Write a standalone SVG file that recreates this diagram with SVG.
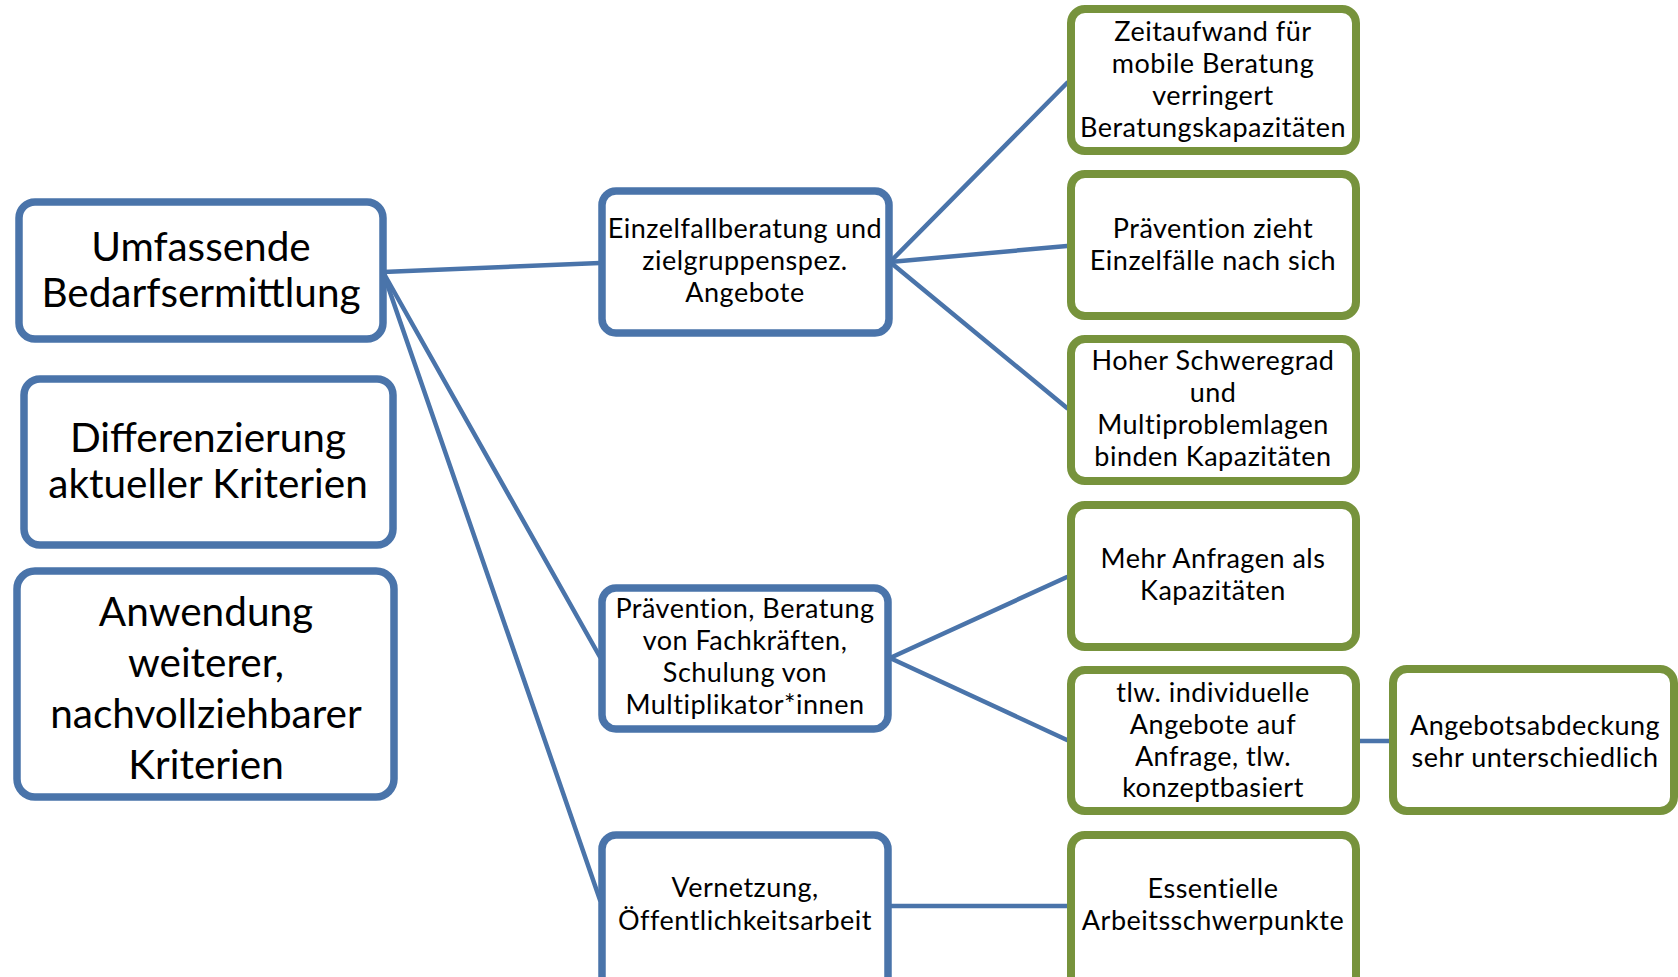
<svg xmlns="http://www.w3.org/2000/svg" width="1678" height="977" viewBox="0 0 1678 977">
<style>
.bb{fill:#fff;stroke:#4A74AA;stroke-width:7.5}
.gb{fill:#fff;stroke:#77933C;stroke-width:8}
.cn{stroke:#4A74AA;stroke-width:4.5;fill:none;stroke-linecap:round}
text{font-family:Lato,"Open Sans",sans-serif;fill:#000;text-anchor:middle}
.t1{font-size:40.5px}
.t2{font-size:40.5px}
.t3{font-size:27px;letter-spacing:0.5px}
</style>
<rect width="1678" height="977" fill="#fff"/>
<g id="connectors">
<line class="cn" x1="383" y1="272" x2="600" y2="263"/>
<line class="cn" x1="383" y1="272" x2="600" y2="657"/>
<line class="cn" x1="383" y1="272" x2="600" y2="900"/>
<line class="cn" x1="890" y1="262" x2="1067" y2="83"/>
<line class="cn" x1="890" y1="262" x2="1067" y2="246"/>
<line class="cn" x1="890" y1="262" x2="1067" y2="408"/>
<line class="cn" x1="890" y1="658" x2="1067" y2="577"/>
<line class="cn" x1="890" y1="658" x2="1067" y2="740"/>
<line class="cn" x1="890" y1="906" x2="1067" y2="906"/>
<line class="cn" x1="1360" y1="741" x2="1390" y2="741"/>
</g>
<g id="n-umfassende">
<rect class="bb" x="19" y="202" width="364" height="137" rx="16"/>
<text class="t1" x="201" y="261">Umfassende</text>
<text class="t1" x="201" y="307">Bedarfsermittlung</text>
</g>
<g id="n-differenzierung">
<rect class="bb" x="24" y="379" width="369" height="166" rx="16"/>
<text class="t1" x="208" y="452">Differenzierung</text>
<text class="t1" x="208" y="498">aktueller Kriterien</text>
</g>
<g id="n-anwendung">
<rect class="bb" x="17" y="571" width="377" height="226" rx="18"/>
<text class="t2" x="206" y="626">Anwendung</text>
<text class="t2" x="206" y="677">weiterer,</text>
<text class="t2" x="206" y="728">nachvollziehbarer</text>
<text class="t2" x="206" y="779">Kriterien</text>
</g>
<g id="n-einzelfall">
<rect class="bb" x="602" y="191" width="287" height="142" rx="14"/>
<text class="t3" x="745" y="238">Einzelfallberatung und</text>
<text class="t3" x="745" y="270">zielgruppenspez.</text>
<text class="t3" x="745" y="302">Angebote</text>
</g>
<g id="n-praevention">
<rect class="bb" x="602" y="588" width="286" height="141" rx="14"/>
<text class="t3" x="745" y="618">Prävention, Beratung</text>
<text class="t3" x="745" y="650">von Fachkräften,</text>
<text class="t3" x="745" y="682">Schulung von</text>
<text class="t3" x="745" y="714">Multiplikator*innen</text>
</g>
<g id="n-vernetzung">
<rect class="bb" x="602" y="835" width="286" height="160" rx="14"/>
<text class="t3" x="745" y="897">Vernetzung,</text>
<text class="t3" x="745" y="930">Öffentlichkeitsarbeit</text>
</g>
<g id="n-zeitaufwand">
<rect class="gb" x="1071" y="9" width="285" height="142" rx="14"/>
<text class="t3" x="1213" y="41">Zeitaufwand für</text>
<text class="t3" x="1213" y="73">mobile Beratung</text>
<text class="t3" x="1213" y="105">verringert</text>
<text class="t3" x="1213" y="137">Beratungskapazitäten</text>
</g>
<g id="n-zieht">
<rect class="gb" x="1071" y="174" width="285" height="142" rx="14"/>
<text class="t3" x="1213" y="238">Prävention zieht</text>
<text class="t3" x="1213" y="270">Einzelfälle nach sich</text>
</g>
<g id="n-schweregrad">
<rect class="gb" x="1071" y="339" width="285" height="142" rx="14"/>
<text class="t3" x="1213" y="370">Hoher Schweregrad</text>
<text class="t3" x="1213" y="402">und</text>
<text class="t3" x="1213" y="434">Multiproblemlagen</text>
<text class="t3" x="1213" y="466">binden Kapazitäten</text>
</g>
<g id="n-anfragen">
<rect class="gb" x="1071" y="505" width="285" height="142" rx="14"/>
<text class="t3" x="1213" y="568">Mehr Anfragen als</text>
<text class="t3" x="1213" y="600">Kapazitäten</text>
</g>
<g id="n-tlw">
<rect class="gb" x="1071" y="670" width="285" height="141" rx="14"/>
<text class="t3" x="1213" y="702">tlw. individuelle</text>
<text class="t3" x="1213" y="734">Angebote auf</text>
<text class="t3" x="1213" y="766">Anfrage, tlw.</text>
<text class="t3" x="1213" y="797">konzeptbasiert</text>
</g>
<g id="n-essentielle">
<rect class="gb" x="1071" y="835" width="285" height="160" rx="14"/>
<text class="t3" x="1213" y="898">Essentielle</text>
<text class="t3" x="1213" y="930">Arbeitsschwerpunkte</text>
</g>
<g id="n-angebotsabdeckung">
<rect class="gb" x="1393" y="669" width="281" height="142" rx="14"/>
<text class="t3" x="1535" y="735">Angebotsabdeckung</text>
<text class="t3" x="1535" y="767">sehr unterschiedlich</text>
</g>
</svg>
